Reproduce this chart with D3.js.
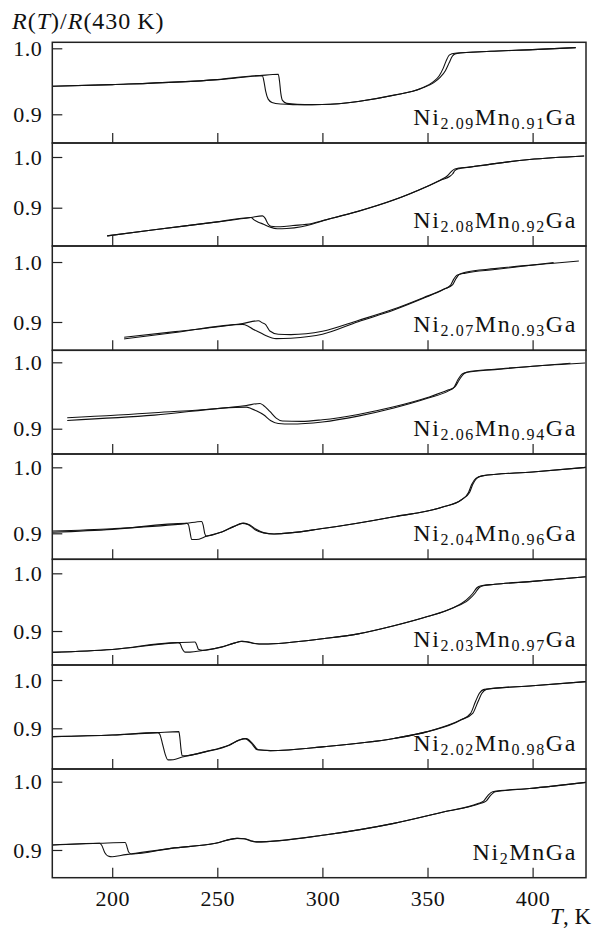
<!DOCTYPE html>
<html>
<head>
<meta charset="utf-8">
<script src="https://cdnjs.cloudflare.com/ajax/libs/d3/7.8.5/d3.min.js"></script>
<style>
	body { margin: 0; background: #fff; }
	svg text { font-family: "Liberation Serif", "DejaVu Serif", serif; fill: #111; }
</style>
</head>
<body>
<script>

// ---- data: [T (K), R(T)/R(430 K)] ----

// sample names, pieces alternate: normal, subscript, normal ...
var sampleNames = [
	["Ni", "2.09", "Mn", "0.91", "Ga"],
	["Ni", "2.08", "Mn", "0.92", "Ga"],
	["Ni", "2.07", "Mn", "0.93", "Ga"],
	["Ni", "2.06", "Mn", "0.94", "Ga"],
	["Ni", "2.04", "Mn", "0.96", "Ga"],
	["Ni", "2.03", "Mn", "0.97", "Ga"],
	["Ni", "2.02", "Mn", "0.98", "Ga"],
	["Ni", "2", "MnGa"]
];

var heat209 = [[171.5,0.9424],[200,0.945],[250,0.9525],[270.3,0.9586],[279,0.9606],[279.6,0.95],[280.2,0.932],[281,0.921],[283,0.9165],[288,0.915],[295,0.9146],[300,0.9148],[317,0.9195],[334,0.9288],[347,0.939],[353,0.948],[356,0.956],[358.5,0.966],[360.3,0.978],[361.8,0.988],[363.5,0.992],[380,0.9955],[400,0.998],[420.5,1.001]];
var cool209 = [[171.5,0.9424],[200,0.945],[250,0.9525],[270.3,0.9586],[271.5,0.958],[272.3,0.948],[273,0.935],[274.2,0.923],[276,0.918],[280,0.9155],[286,0.9147],[295,0.9146],[300,0.9148],[317,0.9195],[334,0.929],[347,0.9395],[353,0.95],[355.5,0.958],[357.5,0.97],[359,0.982],[360.5,0.99],[363,0.9925],[380,0.9955],[400,0.998],[420.5,1.001]];

var heat208 = [[197.6,0.8445],[220,0.8565],[250,0.872],[266,0.8806],[271.5,0.884],[272.8,0.879],[274,0.869],[275.5,0.8635],[280,0.8625],[286,0.8648],[295,0.869],[301,0.8755],[317,0.893],[334,0.9155],[350,0.9425],[357,0.9555],[360.5,0.9615],[362,0.967],[363,0.973],[365,0.977],[370,0.98],[382,0.987],[398.5,0.995],[424.5,1.002]];
var cool208 = [[197.6,0.8445],[220,0.8565],[250,0.872],[266,0.8806],[267.5,0.876],[269.5,0.8715],[272,0.8675],[275,0.862],[278.5,0.8585],[283,0.859],[290,0.8625],[295,0.8675],[301,0.8752],[317,0.8928],[334,0.9152],[350,0.9423],[357,0.9565],[359.5,0.963],[361.3,0.971],[363,0.9765],[370,0.98],[382,0.987],[398.5,0.995],[424.5,1.002]];

var heat207 = [[205.7,0.8745],[230,0.884],[262,0.8975],[269.5,0.902],[271.5,0.8985],[273,0.8955],[275,0.885],[279,0.8795],[285,0.879],[300,0.8845],[317,0.9025],[334,0.9215],[348,0.9405],[358,0.955],[362,0.9625],[363.5,0.972],[365,0.979],[368,0.983],[382,0.989],[410,0.998],[422,1.0017]];
var cool207 = [[205.7,0.8718],[230,0.8825],[262,0.896],[264.5,0.8935],[267,0.888],[270,0.883],[273,0.8775],[278,0.8722],[285,0.873],[300,0.8795],[317,0.9005],[334,0.92],[348,0.9395],[357.5,0.954],[361,0.9615],[362.5,0.9715],[364,0.978],[368,0.9815],[382,0.9875],[410,0.999]];

var heat206 = [[178.6,0.9164],[220,0.924],[263.8,0.935],[270.3,0.938],[272,0.935],[275,0.926],[278,0.916],[281,0.9115],[290,0.911],[300,0.9135],[317,0.9215],[334,0.933],[350,0.947],[360,0.9585],[363,0.963],[365,0.973],[367,0.982],[369,0.9855],[382,0.9896],[400,0.994],[418,0.9985]];
var cool206 = [[178.6,0.9124],[220,0.9205],[263.8,0.9325],[266,0.9305],[268.5,0.927],[272,0.921],[275.5,0.912],[279,0.9078],[285,0.907],[300,0.9102],[317,0.919],[334,0.9312],[350,0.9458],[360,0.957],[362.5,0.962],[364.5,0.974],[366.5,0.9825],[369,0.985],[382,0.989],[400,0.994],[425,0.999]];

var heat204 = [[171.5,0.9035],[200,0.907],[235.4,0.915],[242.5,0.918],[243.3,0.912],[244,0.9],[244.8,0.8958],[252.4,0.9025],[258,0.9105],[262.5,0.9155],[265.5,0.9125],[268.5,0.906],[272,0.901],[277,0.899],[301,0.9076],[334,0.925],[358,0.9405],[366,0.9505],[370,0.962],[371.5,0.974],[373.4,0.9833],[376,0.987],[400,0.993],[425.4,1.0]];
var cool204 = [[171.5,0.9015],[200,0.906],[235.4,0.915],[236.3,0.913],[237,0.902],[237.8,0.8905],[240,0.8905],[244.8,0.8955],[252.4,0.9025],[258,0.9105],[261.8,0.915],[264.8,0.913],[268,0.9055],[272,0.9005],[277,0.899],[301,0.9076],[334,0.925],[358,0.9405],[366,0.9505],[369.5,0.962],[371,0.974],[373,0.9833],[376,0.987],[400,0.993],[425.4,1.0]];

var heat203 = [[171.5,0.863],[200,0.868],[231.3,0.8798],[239.4,0.881],[240.2,0.876],[241,0.8685],[243,0.8665],[252.4,0.8728],[258,0.879],[262,0.8822],[265,0.881],[268,0.8785],[272,0.8775],[301,0.887],[317,0.895],[334,0.909],[350,0.925],[362,0.94],[369.5,0.954],[372.5,0.965],[374.5,0.975],[376.5,0.9785],[382,0.981],[400,0.986],[425.4,0.994]];
var cool203 = [[171.5,0.863],[200,0.868],[231.3,0.8798],[232.3,0.878],[233.2,0.87],[234.6,0.8635],[237,0.8635],[243,0.8662],[252.4,0.8725],[258,0.879],[261.5,0.882],[264.5,0.8808],[267.5,0.8785],[272,0.8775],[301,0.887],[317,0.895],[334,0.909],[350,0.925],[362,0.94],[368.5,0.954],[371.5,0.965],[373.5,0.975],[375.5,0.9785],[382,0.981],[400,0.986],[425.4,0.994]];

var heat202 = [[171.5,0.8828],[200,0.886],[221.6,0.891],[231.7,0.8931],[232.2,0.88],[232.7,0.858],[233.3,0.843],[236,0.8435],[244.3,0.8517],[255.7,0.8655],[260.6,0.8759],[263.8,0.8786],[266.5,0.87],[269.5,0.8555],[275.2,0.8538],[301,0.862],[334,0.879],[350,0.8931],[366,0.9176],[371.5,0.931],[374,0.955],[375.8,0.972],[378,0.9807],[400,0.988],[425.4,0.9966]];
var cool202 = [[171.5,0.8828],[200,0.886],[221.6,0.891],[222.6,0.888],[223.8,0.87],[225.3,0.845],[226.5,0.8345],[229,0.835],[233.3,0.8405],[236,0.843],[244.3,0.8512],[255.7,0.865],[260.3,0.8755],[263.3,0.8786],[266,0.87],[269,0.8555],[275.2,0.8538],[301,0.862],[334,0.879],[350,0.8931],[366,0.9176],[370.5,0.931],[372.8,0.955],[374.6,0.972],[377,0.9807],[400,0.988],[425.4,0.9966]];

var heat200 = [[171.5,0.9073],[194,0.9098],[206.2,0.911],[207,0.905],[207.8,0.897],[209,0.8942],[228,0.9024],[249.2,0.9098],[259.7,0.917],[263,0.9165],[266,0.9135],[268.7,0.9118],[301,0.922],[334,0.939],[358,0.956],[375,0.968],[378,0.972],[380,0.98],[382.3,0.9854],[398.5,0.99],[425.4,0.999]];
var cool200 = [[171.5,0.9073],[194,0.9098],[195,0.907],[196.5,0.896],[198,0.8912],[200,0.89],[204,0.892],[209,0.8942],[228,0.9024],[249.2,0.9098],[259.2,0.917],[262.5,0.9165],[265.5,0.9135],[268.2,0.9118],[301,0.922],[334,0.939],[358,0.956],[374,0.968],[376.8,0.972],[378.8,0.98],[381,0.9854],[398.5,0.99],[425.4,0.999]];

var heatCurves = [heat209, heat208, heat207, heat206, heat204, heat203, heat202, heat200];
var coolCurves = [cool209, cool208, cool207, cool206, cool204, cool203, cool202, cool200];

// value range shown by each panel, top to bottom
var yDomains = [
	[0.8565, 1.0091],
	[0.8245, 1.0276],
	[0.8528, 1.0267],
	[0.8619, 1.0181],
	[0.8606, 1.0202],
	[0.8411, 1.0243],
	[0.8157, 1.0311],
	[0.8594, 1.0186]
];
var xDomain = [171.5, 425.4];
var xTicks = [200, 250, 300, 350, 400];
var yTicks = [0.9, 1.0];


// ---- layout ----
var width = 594, height = 928;
var left = 52.3, right = 586;
// panel edges (top of each panel, last one is the bottom of the stack)
var edges = [42.3, 143, 246, 350.3, 454, 559.3, 665, 769, 877.7];

var svg = d3.select("body").append("svg")
	.attr("width", width)
	.attr("height", height);

var x = d3.scaleLinear().domain(xDomain).range([left, right]);

var line = d3.line()
	.x(function(d) { return x(d[0]); })
	.curve(d3.curveMonotoneX);

svg.append("clipPath").attr("id", "clip")
	.append("rect")
	.attr("x", left).attr("y", edges[0])
	.attr("width", right - left).attr("height", edges[8] - edges[0]);

sampleNames.forEach(function(name, i) {
	var top = edges[i], bottom = edges[i + 1];
	var y = d3.scaleLinear().domain(yDomains[i]).range([bottom, top]);
	var g = svg.append("g").attr("class", "panel");

	// y ticks, pointing inward
	var yAxis = g.append("g")
		.attr("transform", "translate(" + left + ",0)")
		.call(d3.axisLeft(y).tickValues(yTicks).tickFormat(d3.format(".1f"))
			.tickSizeInner(-10).tickSizeOuter(0).tickPadding(10));
	yAxis.select(".domain").remove();
	yAxis.selectAll("line").attr("stroke", "#222").attr("stroke-width", 1.2);
	yAxis.selectAll("text").style("font-size", "22px")
		.style("font-family", "Liberation Serif").style("letter-spacing", "0.5px")
		.attr("fill", "#111");

	// x ticks on the bottom edge, labels only on the last panel
	var xAxis = g.append("g")
		.attr("transform", "translate(0," + bottom + ")")
		.call(d3.axisBottom(x).tickValues(xTicks)
			.tickFormat(i == sampleNames.length - 1 ? d3.format("d") : "")
			.tickSizeInner(-10).tickSizeOuter(0).tickPadding(13));
	xAxis.select(".domain").remove();
	xAxis.selectAll("line").attr("stroke", "#222").attr("stroke-width", 1.2);
	xAxis.selectAll("text").style("font-size", "22px")
		.style("font-family", "Liberation Serif").style("letter-spacing", "0.5px")
		.attr("fill", "#111");

	// the two runs
	line.y(function(d) { return y(d[1]); });
	g.append("g").attr("clip-path", "url(#clip)")
		.selectAll("path")
		.data([heatCurves[i], coolCurves[i]])
		.enter().append("path")
		.attr("d", line)
		.attr("fill", "none")
		.attr("stroke", "#111")
		.attr("stroke-width", 1.1);

	// frame
	g.append("rect")
		.attr("x", left).attr("y", top)
		.attr("width", right - left).attr("height", bottom - top)
		.attr("fill", "none")
		.attr("stroke", "#222")
		.attr("stroke-width", 1.5);

	// sample label
	var label = g.append("text")
		.attr("x", 577)
		.attr("y", bottom - 18)
		.attr("text-anchor", "end")
		.style("letter-spacing", "1.6px");
	name.forEach(function(part, k) {
		var sub = k % 2 == 1;
		label.append("tspan")
			.text(part)
			.style("font-size", sub ? "16px" : "24px")
			.attr("dy", sub ? 4 : (k > 0 ? -4 : 0));
	});
});

// axis titles
var title = svg.append("text").attr("x", 12).attr("y", 29)
	.style("font-size", "24px").style("letter-spacing", "1px");
title.append("tspan").text("R").style("font-style", "italic");
title.append("tspan").text("(");
title.append("tspan").text("T").style("font-style", "italic");
title.append("tspan").text(")/");
title.append("tspan").text("R").style("font-style", "italic");
title.append("tspan").text("(430\u2009K)");

var xTitle = svg.append("text").attr("x", 591).attr("y", 924)
	.attr("text-anchor", "end").style("font-size", "23px");
xTitle.append("tspan").text("T").style("font-style", "italic");
xTitle.append("tspan").text(", K");

</script>
</body>
</html>
